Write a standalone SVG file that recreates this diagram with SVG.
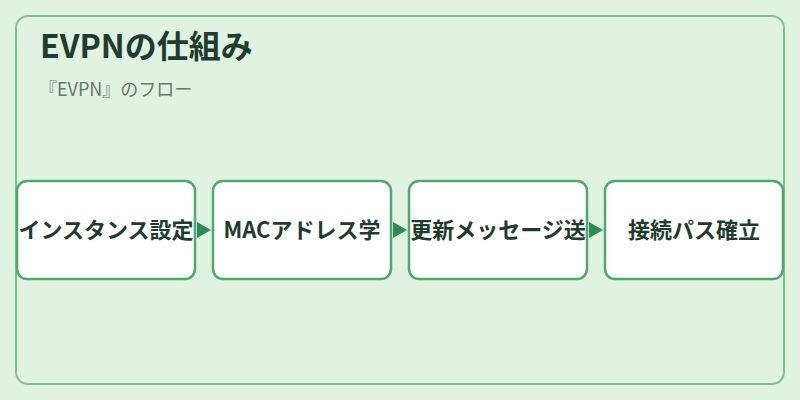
<svg xmlns="http://www.w3.org/2000/svg" width="800" height="400" viewBox="0 0 800 400">
<defs>
<style>
.bg{fill:#e0f2e0}
.frame{fill:#e0f2e0;stroke:#80bf94;stroke-width:2}
.box{fill:#ffffff;stroke:#4caa6e;stroke-width:2.5}
.lbl{font-family:"Noto Sans CJK JP","Noto Sans",sans-serif;font-size:22px;font-weight:700;fill:#1e3d2f;text-anchor:middle}
.title{font-family:"Noto Sans CJK JP","Noto Sans",sans-serif;font-size:32px;font-weight:700;fill:#1e3d2f}
.sub{font-family:"Noto Sans CJK JP","Noto Sans",sans-serif;font-size:18px;fill:#66786c}
</style>
<marker id="arr" markerWidth="14" markerHeight="16" refX="14" refY="8" orient="auto" markerUnits="userSpaceOnUse">
<path d="M0,0 L14,8 L0,16 Z" fill="#2e8b57"/>
</marker>
</defs>
<rect class="bg" x="0" y="0" width="800" height="400"/>
<rect class="frame" x="16" y="16" width="768" height="368" rx="12"/>
<text class="title" x="40" y="58">EVPNの仕組み</text>
<text class="sub" x="39" y="96">『EVPN』のフロー</text>
<g id="connectors">
<path d="M196,230 L211,230" stroke="#2e8b57" stroke-width="0" fill="none" marker-end="url(#arr)"/>
<path d="M392,230 L407,230" stroke="#2e8b57" stroke-width="0" fill="none" marker-end="url(#arr)"/>
<path d="M588,230 L603,230" stroke="#2e8b57" stroke-width="0" fill="none" marker-end="url(#arr)"/>
</g>
<g id="node1"><rect class="box" x="17" y="181" width="178" height="98" rx="10"/><text class="lbl" x="106" y="238">インスタンス設定</text></g>
<g id="node2"><rect class="box" x="213" y="181" width="178" height="98" rx="10"/><text class="lbl" x="302" y="238">MACアドレス学</text></g>
<g id="node3"><rect class="box" x="409" y="181" width="178" height="98" rx="10"/><text class="lbl" x="498" y="238">更新メッセージ送</text></g>
<g id="node4"><rect class="box" x="605" y="181" width="178" height="98" rx="10"/><text class="lbl" x="694" y="238">接続パス確立</text></g>
</svg>
